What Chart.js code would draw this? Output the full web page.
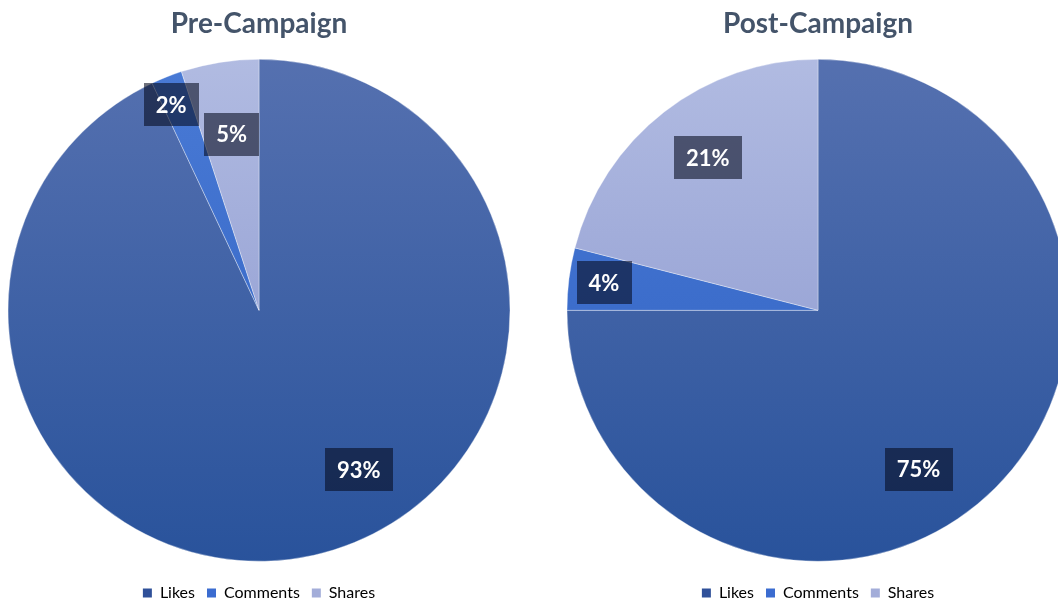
<!DOCTYPE html>
<html>
<head>
<meta charset="utf-8">
<title>Engagement Mix</title>
<script src="https://cdn.jsdelivr.net/npm/chart.js@4.4.1/dist/chart.umd.min.js"></script>
<style>
  html, body { margin: 0; padding: 0; background: #fff; overflow: hidden; }
  body { width: 1058px; height: 602px; position: relative; }
  .pie-box { position: absolute; top: 0; width: 518px; height: 611px; }
  #preBox { left: 0; }
  #postBox { left: 559px; }
</style>
</head>
<body>
<div class="pie-box" id="preBox"><canvas id="preChart"></canvas></div>
<div class="pie-box" id="postBox"><canvas id="postChart"></canvas></div>

<script>
// ---- data ----
const categories = ['Likes', 'Comments', 'Shares'];
const preCampaign = [93, 2, 5];
const postCampaign = [75, 4, 21];
const chartTitles = ['Pre-Campaign', 'Post-Campaign'];

// ---- look ----
const sliceTop = ['#5671b0', '#4a7bd6', '#b2bce2'];
const sliceBottom = ['#28529b', '#2e5fc0', '#8592cc'];
const legendSwatch = ['#2f5099', '#3b6cd0', '#a3add9'];

// where each value box sits: [fraction along the slice, fraction of radius]
const preSpots = [[0.442, 0.75], [0.28, 0.89], [0.51, 0.71]];
const postSpots = [[0.547, 0.75], [0.51, 0.86], [0.526, 0.75]];

Chart.defaults.font.family = "Lato, 'Open Sans', sans-serif";
Chart.defaults.animation = false;

function sliceFill(context) {
  const chart = context.chart;
  const area = chart.chartArea;
  const i = context.dataIndex;
  if (!area) return sliceBottom[i];
  const g = chart.ctx.createLinearGradient(0, area.top, 0, area.bottom);
  g.addColorStop(0, sliceTop[i]);
  g.addColorStop(1, sliceBottom[i]);
  return g;
}

// dark translucent boxes with the percentage in white
const boxLabels = {
  id: 'boxLabels',
  afterDatasetsDraw(chart, args, opts) {
    const ctx = chart.ctx;
    const meta = chart.getDatasetMeta(0);
    const values = chart.data.datasets[0].data;
    ctx.save();
    ctx.font = 'bold 22px Lato, sans-serif';
    ctx.textAlign = 'center';
    ctx.textBaseline = 'middle';
    meta.data.forEach((arc, i) => {
      const p = arc.getProps(['x', 'y', 'startAngle', 'endAngle', 'outerRadius'], true);
      const [t, f] = opts.spots[i];
      const a = p.startAngle + (p.endAngle - p.startAngle) * t;
      const cx = p.x + Math.cos(a) * p.outerRadius * f;
      const cy = p.y + Math.sin(a) * p.outerRadius * f;
      const text = values[i] + '%';
      const w = ctx.measureText(text).width + 24;
      const h = 43;
      ctx.fillStyle = 'rgba(5, 10, 30, 0.58)';
      ctx.fillRect(Math.round(cx - w / 2), Math.round(cy - h / 2), Math.round(w), h);
      ctx.fillStyle = '#ffffff';
      ctx.fillText(text, cx, cy + 1);
    });
    ctx.restore();
  }
};

function makePie(canvasId, title, values, spots) {
  const ctx = document.getElementById(canvasId).getContext('2d');
  return new Chart(ctx, {
    type: 'pie',
    data: {
      labels: categories,
      datasets: [{
        data: values,
        backgroundColor: sliceFill,
        borderColor: 'rgba(255, 255, 255, 0.35)',
        borderWidth: 1,
        radius: 251
      }]
    },
    options: {
      responsive: true,
      maintainAspectRatio: false,
      layout: { padding: 0 },
      plugins: {
        title: {
          display: true,
          text: title,
          color: '#44546a',
          font: { size: 28, weight: 'bold' },
          padding: { top: 7, bottom: 7 }
        },
        legend: {
          position: 'bottom',
          labels: {
            color: '#595959',
            font: { size: 16 },
            boxWidth: 9,
            boxHeight: 9,
            padding: 12,
            generateLabels: chart => categories.map((name, i) => ({
              text: name,
              fillStyle: legendSwatch[i],
              strokeStyle: legendSwatch[i],
              lineWidth: 0,
              hidden: false,
              index: i
            }))
          }
        },
        tooltip: { enabled: false },
        boxLabels: { spots: spots }
      }
    },
    plugins: [boxLabels]
  });
}

makePie('preChart', chartTitles[0], preCampaign, preSpots);
makePie('postChart', chartTitles[1], postCampaign, postSpots);
</script>
</body>
</html>
